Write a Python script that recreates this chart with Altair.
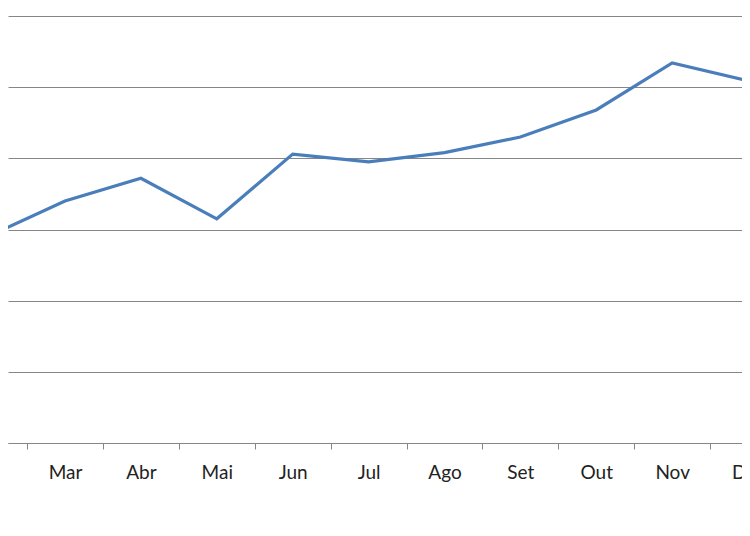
import altair as alt
import pandas as pd

months = ["Fev", "Mar", "Abr", "Mai", "Jun", "Jul", "Ago", "Set", "Out", "Nov", "Dez"]
month_index = [1, 2, 3, 4, 5, 6, 7, 8, 9, 10, 11]
values = [29.1, 34.0, 37.2, 31.5, 40.6, 39.5, 40.8, 43.0, 46.8, 53.4, 50.9]
all_months = ["Jan", "Fev", "Mar", "Abr", "Mai", "Jun", "Jul", "Ago", "Set", "Out", "Nov", "Dez"]
boundaries = [1.5, 2.5, 3.5, 4.5, 5.5, 6.5, 7.5, 8.5, 9.5, 10.5]
y_ticks = [0, 10, 20, 30, 40, 50, 60]

df = pd.DataFrame({"idx": month_index, "month": months, "value": values})

x_lo, x_hi = 1.249, 10.92
width = 734
step = width / (x_hi - x_lo)

label_expr = "[" + ",".join(f"'{m}'" for m in all_months) + "][floor(datum.value) + 1]"

chart = (
    alt.Chart(df)
    .mark_line(color="#4a7ebb", strokeWidth=3.2, clip=True)
    .encode(
        x=alt.X(
            "idx:Q",
            scale=alt.Scale(domain=[x_lo, x_hi], nice=False, zero=False),
            axis=alt.Axis(
                title=None,
                values=boundaries,
                labelOffset=step / 2,
                labelExpr=label_expr,
                labelBound=False,
                labelOverlap=False,
                labelFlush=False,
                grid=False,
                tickSize=6,
                tickColor="#868686",
                domainColor="#868686",
                domainWidth=1,
                labelFont="Lato",
                labelFontSize=19,
                labelColor="#222222",
                labelBaseline="alphabetic",
                labelPadding=29,
            ),
        ),
        y=alt.Y(
            "value:Q",
            scale=alt.Scale(domain=[0, 60], nice=False),
            axis=alt.Axis(
                title=None,
                values=y_ticks,
                labels=False,
                ticks=False,
                domain=False,
                grid=True,
                gridColor="#868686",
                gridWidth=1,
                gridOpacity=1,
            ),
        ),
    )
    .properties(
        width=width,
        height=427,
        autosize=alt.AutoSizeParams(type="none"),
        padding={"left": 0, "top": 8, "right": 0, "bottom": 60},
    )
    .configure_view(stroke=None)
)

chart.save("out.html", embed_options={"renderer": "svg", "actions": False})
